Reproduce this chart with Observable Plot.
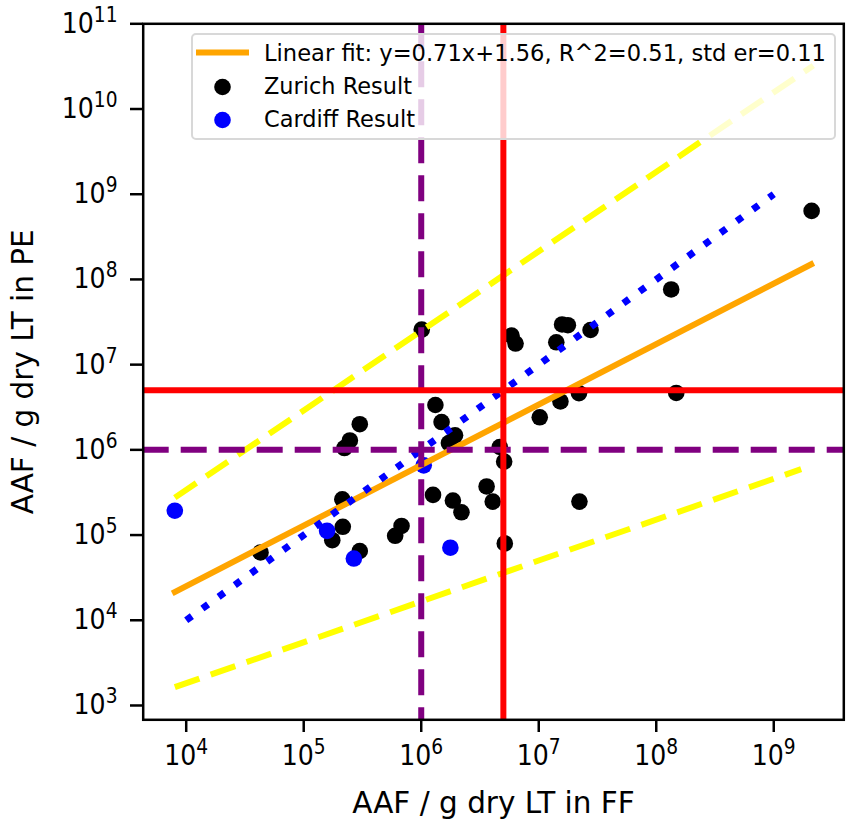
<!DOCTYPE html>
<html>
<head>
<meta charset="utf-8">
<script src="https://cdn.jsdelivr.net/npm/d3@7"></script>
<script src="https://cdn.jsdelivr.net/npm/@observablehq/plot@0.6"></script>
<style>
  html, body { margin: 0; padding: 0; background: #fff; }
  #wrap { position: relative; width: 851px; height: 826px; font-family: "DejaVu Sans", sans-serif; }
  #legend { position: absolute; left: 190.5px; top: 33px; width: 645.5px; height: 107px;
            background: rgba(255,255,255,0.8); border: 2px solid #d8d8d8; border-radius: 5px; box-sizing: border-box; }
  #legendMarks { position: absolute; left: 0; top: 0; pointer-events: none; }
  .tk text { font-family: "DejaVu Sans Condensed", "DejaVu Sans", sans-serif; font-stretch: condensed; }
</style>
</head>
<body>
<div id="wrap"></div>
<script>
// ---- data ----
const xTicks = [1e4, 1e5, 1e6, 1e7, 1e8, 1e9];
const yTicks = [1e3, 1e4, 1e5, 1e6, 1e7, 1e8, 1e9, 1e10, 1e11];

const zurichX = [4.29e4, 3.0e5, 2.47e5, 2.22e5, 2.13e5, 2.15e5, 1.75e5, 3.0e5, 6.8e5, 6.0e5,
                 1.26e6, 1.86e6, 2.2e6, 3.6e6, 4.06e6, 5.14e6, 2.22e7, 1.32e6, 1.49e6, 1.94e6,
                 1.72e6, 4.66e6, 5.08e6, 1.02e7, 1.53e7, 2.2e7, 1.48e8, 2.1e9, 1.34e8, 1.58e7,
                 1.77e7, 2.76e7, 1.41e7, 5.87e6, 6.35e6, 1.01e6];
const zurichY = [6.25e4, 2.0e6, 1.29e6, 1.05e6, 2.63e5, 1.25e5, 8.7e4, 6.5e4, 1.28e5, 9.8e4,
                 2.96e5, 2.54e5, 1.85e5, 3.72e5, 2.47e5, 7.98e4, 2.47e5, 3.36e6, 2.12e6, 1.48e6,
                 1.2e6, 1.08e6, 7.28e5, 2.41e6, 3.7e6, 4.62e6, 4.65e6, 6.37e8, 7.62e7, 2.96e7,
                 2.9e7, 2.55e7, 1.83e7, 2.19e7, 1.77e7, 2.58e7];

const cardiffX = [8.0e3, 1.58e5, 2.67e5, 1.77e6, 1.05e6];
const cardiffY = [1.93e5, 1.12e5, 5.3e4, 7.1e4, 6.58e5];

const fitX = [7.6e3, 2.19e9];
const fitY = [2.07e4, 1.56e8];
const upperX = [8.0e3, 2.17e9];
const upperY = [2.75e5, 3.23e10];
const lowerX = [8.0e3, 1.71e9];
const lowerY = [1.64e3, 5.93e5];
const identX = [1e4, 1e9];
const identY = [1e4, 1e9];

const thresholdLow = 1e6;
const thresholdHigh = 5e6;

const fitLabel = "Linear fit: y=0.71x+1.56, R^2=0.51, std er=0.11";
const seriesNames = ["Zurich Result", "Cardiff Result"];
const xLabel = "AAF / g dry LT in FF";
const yLabel = "AAF / g dry LT in PE";

// ---- tables ----
const zurich = zurichX.map((x, i) => ({x, y: zurichY[i]}));
const cardiff = cardiffX.map((x, i) => ({x, y: cardiffY[i]}));
const seg = (xs, ys) => xs.map((x, i) => ({x, y: ys[i]}));

const W = 851, H = 826;
const mL = 142.7, mR = 7.7, mT = 23.3, mB = 826 - 719.3;
const dashed = {strokeWidth: 6, strokeDasharray: "26,12", strokeLinecap: "butt"};

const plot = Plot.plot({
  width: W, height: H,
  marginLeft: mL, marginRight: mR, marginTop: mT, marginBottom: mB,
  style: {fontFamily: "DejaVu Sans, sans-serif", background: "#fff", color: "#000"},
  x: {type: "log", domain: [Math.pow(10, 3.634), Math.pow(10, 9.596)]},
  y: {type: "log", domain: [Math.pow(10, 2.832), Math.pow(10, 11.0)]},
  marks: [
    Plot.dot(zurich, {x: "x", y: "y", r: 8.3, fill: "black", stroke: "none"}),
    Plot.dot(cardiff, {x: "x", y: "y", r: 8.3, fill: "#0000ff", stroke: "none"}),
    Plot.line(seg(fitX, fitY), {x: "x", y: "y", stroke: "#ffa500", strokeWidth: 6, strokeLinecap: "butt"}),
    Plot.line(seg(upperX, upperY), {x: "x", y: "y", stroke: "#ffff00", ...dashed}),
    Plot.line(seg(lowerX, lowerY), {x: "x", y: "y", stroke: "#ffff00", ...dashed}),
    Plot.line(seg(identX, identY), {x: "x", y: "y", stroke: "#0000ff", strokeWidth: 7,
                                    strokeDasharray: "7,13", strokeLinecap: "butt"}),
    Plot.ruleX([thresholdLow], {stroke: "#800080", ...dashed}),
    Plot.ruleY([thresholdLow], {stroke: "#800080", ...dashed}),
    Plot.ruleX([thresholdHigh], {stroke: "#ff0000", strokeWidth: 6}),
    Plot.ruleY([thresholdHigh], {stroke: "#ff0000", strokeWidth: 6}),
    Plot.frame({stroke: "black", strokeWidth: 2.5}),
    Plot.axisX({ticks: xTicks, tickFormat: d => String(Math.round(Math.log10(d))), tickSize: 12.7,
                tickPadding: 13, fontSize: 28, strokeWidth: 2.5, label: null}),
    Plot.axisY({ticks: yTicks, tickFormat: d => String(Math.round(Math.log10(d))), tickSize: 12.7,
                tickPadding: 13, fontSize: 28, strokeWidth: 2.5, label: null}),
    Plot.text([xLabel], {frameAnchor: "bottom", dy: 93, text: d => d, fontSize: 29.5,
                         textAnchor: "middle", lineAnchor: "bottom"}),
    Plot.text([yLabel], {frameAnchor: "left", dx: -110, rotate: -90, text: d => d, fontSize: 29.5,
                         textAnchor: "middle", lineAnchor: "bottom"})
  ]
});

// superscript exponents
d3.select(plot).selectAll('g[aria-label="x-axis tick label"], g[aria-label="y-axis tick label"]').classed("tk", true);
d3.select(plot).selectAll('g[aria-label="x-axis tick label"] text, g[aria-label="y-axis tick label"] text').each(function() {
  const exp = this.textContent;
  const t = d3.select(this);
  t.text("10");
  t.append("tspan").attr("dy", "-0.53em").attr("font-size", "0.74em").text(exp);
});

const wrap = document.getElementById("wrap");
wrap.appendChild(plot);

// legend (drawn over the plot, semi-transparent like matplotlib)
d3.select(wrap).append("div").attr("id", "legend");
const lsvg = d3.select(wrap).append("svg").attr("id", "legendMarks").attr("width", W).attr("height", H)
  .style("font-family", "DejaVu Sans, sans-serif");
lsvg.append("line").attr("x1", 196).attr("x2", 249).attr("y1", 52.5).attr("y2", 52.5)
  .attr("stroke", "#ffa500").attr("stroke-width", 6);
lsvg.append("circle").attr("cx", 222.5).attr("cy", 87).attr("r", 8.3).attr("fill", "black");
lsvg.append("circle").attr("cx", 222.5).attr("cy", 120).attr("r", 8.3).attr("fill", "#0000ff");
const labels = [fitLabel, ...seriesNames];
const baselines = [60.7, 94, 126.8];
const widths = [562, 148, 151];
labels.forEach((s, i) => {
  lsvg.append("text").attr("x", 264).attr("y", baselines[i]).attr("font-size", 23.5)
    .attr("textLength", widths[i]).attr("lengthAdjust", "spacingAndGlyphs").text(s);
});
</script>
</body>
</html>
